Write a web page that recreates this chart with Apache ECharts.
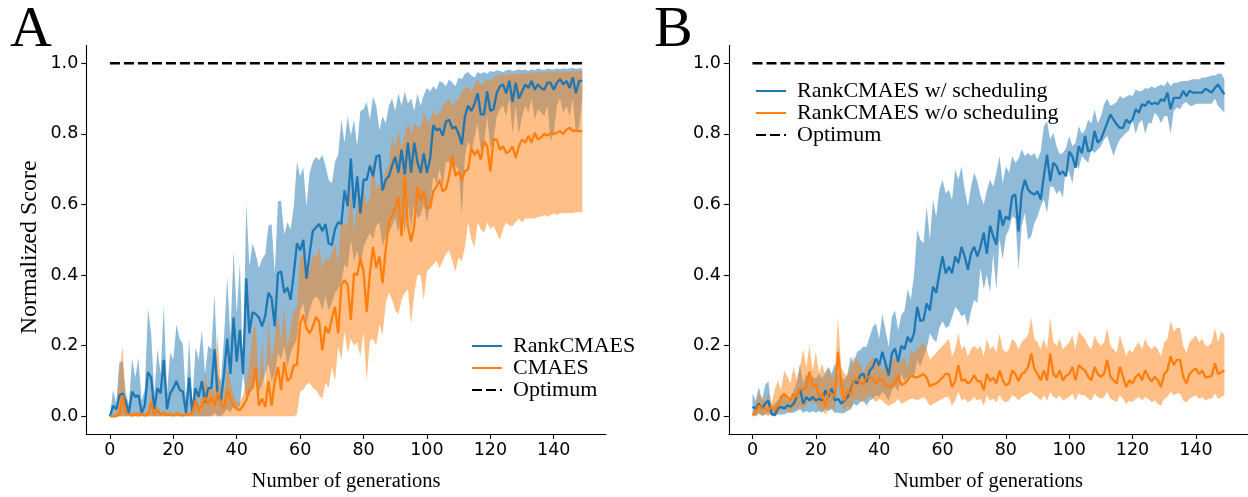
<!DOCTYPE html>
<html>
<head>
<meta charset="utf-8">
<script src="https://cdn.jsdelivr.net/npm/echarts@6/dist/echarts.min.js"></script>
<style>
html,body{margin:0;padding:0;background:#fff;}
#c{width:1248px;height:497px;}
</style>
</head>
<body>
<div id="c"></div>
<script>
// generation index (x values)
const generations = Array.from({length:150}, (_, i) => i);
const xTicks = [0, 20, 40, 60, 80, 100, 120, 140];
const yTicks = [0, 0.2, 0.4, 0.6, 0.8, 1.0];
const optimum = 1.0;

// ---------- Panel A ----------
const A_rank_mean = [
0,0.03,0.02,0.06,0.065,0.04,0.01,0.07,0.055,0.06,
0.01,0.03,0.125,0.11,0.02,0.08,0.065,0.16,0.02,0.065,
0.08,0.1,0.075,0.07,0.01,0.11,0.01,0.08,0.055,0.1,
0.04,0.08,0.08,0.19,0.055,0.045,0.12,0.22,0.12,0.28,
0.155,0.245,0.12,0.39,0.235,0.295,0.29,0.28,0.255,0.285,
0.35,0.335,0.255,0.405,0.41,0.35,0.365,0.33,0.405,0.49,
0.47,0.5,0.39,0.46,0.525,0.535,0.545,0.525,0.545,0.49,
0.485,0.53,0.55,0.545,0.64,0.595,0.73,0.59,0.68,0.575,
0.67,0.67,0.71,0.68,0.735,0.74,0.64,0.67,0.68,0.71,
0.735,0.69,0.755,0.685,0.775,0.69,0.775,0.72,0.69,0.745,
0.69,0.73,0.825,0.81,0.815,0.795,0.835,0.84,0.815,0.82,
0.8,0.77,0.85,0.88,0.865,0.885,0.915,0.855,0.855,0.92,
0.865,0.87,0.915,0.935,0.94,0.915,0.95,0.89,0.945,0.9,
0.92,0.94,0.93,0.95,0.925,0.94,0.93,0.925,0.945,0.945,
0.925,0.945,0.955,0.94,0.95,0.93,0.96,0.915,0.95,0.95];
const A_rank_upper = [
0,0.075,0.035,0.155,0.155,0.065,0.035,0.165,0.11,0.165,
0.045,0.075,0.305,0.235,0.065,0.19,0.12,0.315,0.065,0.18,
0.16,0.26,0.22,0.205,0.045,0.22,0.035,0.195,0.16,0.245,
0.12,0.2,0.19,0.345,0.12,0.1,0.225,0.395,0.225,0.47,
0.29,0.435,0.12,0.605,0.425,0.49,0.46,0.42,0.445,0.46,
0.54,0.545,0.405,0.61,0.61,0.515,0.55,0.53,0.595,0.72,
0.68,0.705,0.595,0.69,0.72,0.735,0.725,0.74,0.71,0.67,
0.66,0.72,0.74,0.84,0.775,0.85,0.795,0.84,0.765,0.865,
0.87,0.89,0.84,0.905,0.88,0.81,0.85,0.83,0.88,0.9,
0.865,0.915,0.88,0.92,0.885,0.9,0.865,0.915,0.88,0.91,
0.93,0.92,0.935,0.925,0.95,0.945,0.935,0.955,0.945,0.935,
0.96,0.955,0.97,0.975,0.965,0.96,0.975,0.97,0.975,0.97,
0.978,0.975,0.98,0.978,0.975,0.98,0.982,0.978,0.98,0.983,
0.98,0.982,0.978,0.983,0.98,0.985,0.982,0.98,0.985,0.983,
0.982,0.985,0.983,0.986,0.984,0.985,0.987,0.984,0.986,0.985];
const A_rank_lower = [
0,0,0,0,0,0,0,0,0,0,
0,0,0,0,0,0,0,0,0,0,
0,0,0,0,0,0,0,0,0,0,
0,0,0,0.01,0,0,0.01,0.02,0.01,0.03,
0.02,0.03,0.12,0.05,0.06,0.08,0.1,0.07,0.09,0.12,
0.15,0.1,0.12,0.18,0.16,0.2,0.14,0.18,0.2,0.22,
0.3,0.32,0.26,0.3,0.33,0.34,0.33,0.3,0.34,0.3,
0.32,0.35,0.36,0.38,0.43,0.42,0.5,0.44,0.47,0.42,
0.48,0.5,0.52,0.5,0.54,0.55,0.48,0.51,0.52,0.54,
0.56,0.52,0.58,0.52,0.6,0.53,0.6,0.56,0.57,0.6,
0.55,0.6,0.68,0.66,0.7,0.65,0.72,0.72,0.7,0.71,
0.7,0.57,0.74,0.78,0.75,0.79,0.83,0.75,0.77,0.85,
0.76,0.78,0.85,0.87,0.88,0.85,0.9,0.8,0.88,0.8,
0.85,0.88,0.86,0.9,0.84,0.87,0.86,0.85,0.88,0.78,
0.8,0.88,0.9,0.86,0.88,0.85,0.9,0.8,0.82,0.9];
const A_cma_mean = [
0,0,0,0.005,0.06,0.01,0.005,0.003,0.005,0.003,
0.005,0.003,0.004,0.04,0.005,0.017,0.005,0.008,0.004,0.005,
0.003,0.006,0.004,0.003,0.005,0.004,0.01,0.045,0.015,0.03,
0.055,0.035,0.055,0.03,0.07,0.035,0.022,0.075,0.05,0.03,
0.02,0.018,0.03,0.045,0.075,0.08,0.14,0.03,0.05,0.027,
0.1,0.03,0.1,0.14,0.074,0.154,0.1,0.11,0.145,0.145,
0.263,0.287,0.25,0.235,0.254,0.282,0.268,0.187,0.254,0.235,
0.277,0.31,0.235,0.372,0.386,0.372,0.273,0.405,0.4,0.448,
0.41,0.296,0.405,0.48,0.42,0.453,0.377,0.472,0.552,0.566,
0.59,0.62,0.51,0.68,0.538,0.495,0.54,0.65,0.61,0.637,
0.59,0.59,0.637,0.65,0.67,0.637,0.645,0.68,0.74,0.68,
0.694,0.67,0.694,0.7,0.76,0.74,0.755,0.727,0.78,0.765,
0.694,0.784,0.784,0.755,0.765,0.746,0.75,0.765,0.732,0.765,
0.784,0.775,0.794,0.775,0.803,0.784,0.79,0.8,0.795,0.803,
0.8,0.803,0.808,0.8,0.812,0.817,0.808,0.81,0.808,0.808];
const A_cma_upper = [
0,0.005,0.01,0.12,0.2,0.03,0.01,0.01,0.015,0.01,
0.012,0.01,0.015,0.065,0.01,0.035,0.012,0.02,0.01,0.012,
0.008,0.015,0.01,0.008,0.012,0.01,0.025,0.07,0.03,0.06,
0.12,0.07,0.1,0.06,0.235,0.07,0.05,0.14,0.1,0.06,
0.04,0.04,0.06,0.1,0.15,0.235,0.26,0.09,0.21,0.08,
0.28,0.15,0.22,0.29,0.21,0.31,0.2,0.25,0.3,0.31,
0.45,0.46,0.43,0.41,0.46,0.45,0.48,0.42,0.45,0.44,
0.46,0.49,0.43,0.56,0.54,0.55,0.65,0.52,0.6,0.62,
0.64,0.6,0.62,0.73,0.64,0.66,0.65,0.7,0.71,0.79,
0.76,0.81,0.76,0.8,0.83,0.8,0.83,0.82,0.82,0.86,
0.84,0.83,0.87,0.85,0.86,0.88,0.89,0.9,0.88,0.89,
0.9,0.92,0.93,0.935,0.92,0.94,0.955,0.94,0.945,0.955,
0.95,0.96,0.964,0.965,0.97,0.965,0.97,0.968,0.97,0.972,
0.97,0.972,0.974,0.972,0.975,0.973,0.976,0.974,0.975,0.976,
0.975,0.977,0.976,0.978,0.976,0.977,0.978,0.977,0.978,0.977];
const A_cma_lower = [
0,0,0,0,0,0,0,0,0,0,
0,0,0,0,0,0,0,0,0,0,
0,0,0,0,0,0,0,0,0,0,
0,0,0,0,0,0,0,0,0,0,
0,0,0,0,0,0,0,0,0,0,
0,0,0,0,0,0,0,0,0,0.005,
0.07,0.075,0.09,0.095,0.08,0.075,0.06,0.05,0.095,0.08,
0.14,0.1,0.2,0.16,0.24,0.18,0.22,0.2,0.21,0.17,
0.24,0.1,0.215,0.22,0.2,0.26,0.23,0.32,0.35,0.33,
0.3,0.29,0.33,0.35,0.36,0.26,0.35,0.4,0.4,0.33,
0.41,0.42,0.43,0.44,0.42,0.44,0.46,0.47,0.44,0.41,
0.45,0.44,0.48,0.55,0.5,0.48,0.55,0.53,0.52,0.55,
0.53,0.54,0.52,0.5,0.53,0.55,0.54,0.54,0.55,0.56,
0.55,0.56,0.56,0.56,0.56,0.565,0.565,0.57,0.565,0.57,
0.575,0.57,0.575,0.575,0.575,0.576,0.575,0.578,0.578,0.578];

// ---------- Panel B ----------
const B_sched_mean = [
0.027,0.022,0.036,0.022,0.036,0.045,0.008,0.003,0.022,0.027,
0.022,0.031,0.027,0.036,0.055,0.079,0.036,0.055,0.045,0.055,
0.045,0.05,0.045,0.074,0.055,0.079,0.045,0.05,0.036,0.045,
0.055,0.074,0.102,0.093,0.116,0.121,0.097,0.13,0.14,0.164,
0.145,0.183,0.15,0.116,0.178,0.192,0.154,0.2,0.19,0.225,
0.21,0.235,0.31,0.27,0.273,0.32,0.3,0.367,0.35,0.405,
0.453,0.405,0.424,0.405,0.453,0.434,0.48,0.453,0.415,0.462,
0.48,0.453,0.48,0.52,0.46,0.54,0.51,0.486,0.585,0.54,
0.566,0.557,0.623,0.628,0.524,0.633,0.67,0.642,0.633,0.628,
0.637,0.614,0.68,0.741,0.666,0.718,0.708,0.685,0.694,0.68,
0.75,0.736,0.704,0.765,0.746,0.794,0.75,0.755,0.808,0.775,
0.784,0.808,0.831,0.855,0.84,0.827,0.817,0.817,0.841,0.831,
0.841,0.87,0.86,0.884,0.879,0.893,0.884,0.888,0.884,0.898,
0.893,0.917,0.87,0.902,0.902,0.902,0.922,0.907,0.922,0.917,
0.917,0.917,0.917,0.928,0.922,0.917,0.93,0.94,0.925,0.912];
const B_sched_upper = [
0.064,0.045,0.083,0.045,0.088,0.1,0.027,0.036,0.045,0.055,
0.064,0.045,0.055,0.074,0.097,0.15,0.093,0.121,0.102,0.112,
0.107,0.121,0.107,0.126,0.14,0.121,0.15,0.121,0.112,0.102,
0.121,0.169,0.15,0.183,0.188,0.197,0.197,0.225,0.254,0.263,
0.22,0.29,0.244,0.197,0.282,0.3,0.244,0.287,0.3,0.36,
0.33,0.4,0.528,0.5,0.49,0.595,0.5,0.613,0.565,0.642,
0.67,0.632,0.642,0.613,0.7,0.67,0.708,0.642,0.595,0.65,
0.69,0.665,0.625,0.6,0.64,0.67,0.65,0.69,0.737,0.66,
0.708,0.69,0.737,0.718,0.73,0.756,0.737,0.746,0.737,0.746,
0.727,0.75,0.822,0.836,0.784,0.803,0.765,0.742,0.746,0.76,
0.794,0.765,0.775,0.822,0.8,0.81,0.84,0.83,0.87,0.83,
0.85,0.884,0.9,0.88,0.884,0.89,0.907,0.9,0.905,0.91,
0.907,0.926,0.92,0.922,0.93,0.928,0.935,0.93,0.935,0.94,
0.935,0.95,0.935,0.945,0.945,0.948,0.95,0.95,0.952,0.955,
0.955,0.955,0.96,0.96,0.962,0.965,0.965,0.97,0.97,0.955];
const B_sched_lower = [
0.005,0,0.01,0,0.005,0.01,0,0,0.005,0.005,
0.005,0.01,0.01,0.01,0.015,0.02,0.01,0.015,0.01,0.015,
0.01,0.015,0.01,0.02,0.015,0.02,0.01,0.01,0.008,0.01,
0.015,0.02,0.036,0.03,0.04,0.045,0.03,0.045,0.05,0.06,
0.055,0.07,0.06,0.045,0.074,0.085,0.07,0.12,0.1,0.11,
0.12,0.11,0.16,0.14,0.17,0.19,0.235,0.22,0.21,0.25,
0.27,0.25,0.255,0.28,0.31,0.3,0.283,0.29,0.255,0.3,
0.33,0.32,0.42,0.36,0.4,0.35,0.46,0.36,0.5,0.445,
0.51,0.53,0.566,0.56,0.415,0.54,0.576,0.5,0.51,0.547,
0.566,0.595,0.614,0.576,0.65,0.65,0.63,0.64,0.62,0.71,
0.69,0.66,0.72,0.7,0.737,0.727,0.718,0.756,0.746,0.756,
0.765,0.784,0.794,0.765,0.737,0.765,0.784,0.794,0.803,0.812,
0.84,0.8,0.83,0.84,0.8,0.83,0.83,0.86,0.85,0.83,
0.85,0.85,0.8,0.865,0.875,0.87,0.885,0.89,0.88,0.88,
0.885,0.885,0.885,0.885,0.885,0.885,0.9,0.88,0.87,0.86];
const B_nosched_mean = [
0.003,0.013,0.031,0.022,0.022,0.017,0.027,0.017,0.031,0.055,
0.064,0.055,0.045,0.064,0.055,0.079,0.074,0.083,0.126,0.083,
0.093,0.055,0.064,0.027,0.069,0.064,0.055,0.183,0.093,0.045,
0.074,0.06,0.102,0.107,0.097,0.088,0.112,0.112,0.107,0.093,
0.107,0.102,0.088,0.083,0.088,0.093,0.116,0.088,0.093,0.102,
0.116,0.112,0.11,0.115,0.12,0.11,0.085,0.09,0.093,0.1,
0.11,0.12,0.12,0.083,0.1,0.145,0.1,0.105,0.093,0.1,
0.117,0.1,0.1,0.074,0.12,0.1,0.11,0.093,0.13,0.102,
0.088,0.093,0.13,0.12,0.1,0.12,0.125,0.14,0.178,0.135,
0.12,0.102,0.13,0.102,0.178,0.12,0.11,0.13,0.102,0.115,
0.12,0.14,0.102,0.145,0.136,0.13,0.112,0.102,0.14,0.12,
0.112,0.12,0.16,0.112,0.102,0.093,0.14,0.112,0.083,0.102,
0.093,0.112,0.12,0.102,0.13,0.112,0.098,0.112,0.102,0.083,
0.12,0.13,0.17,0.145,0.16,0.16,0.112,0.093,0.12,0.13,
0.135,0.12,0.13,0.11,0.112,0.115,0.15,0.12,0.125,0.13];
const B_nosched_upper = [
0.005,0.036,0.064,0.055,0.045,0.064,0.036,0.074,0.102,0.074,
0.13,0.112,0.093,0.14,0.102,0.14,0.19,0.14,0.2,0.13,
0.183,0.121,0.15,0.112,0.14,0.102,0.121,0.28,0.14,0.121,
0.112,0.14,0.169,0.159,0.15,0.121,0.145,0.159,0.169,0.159,
0.145,0.13,0.15,0.136,0.155,0.169,0.15,0.159,0.169,0.14,
0.188,0.178,0.19,0.2,0.21,0.19,0.16,0.17,0.18,0.19,
0.2,0.21,0.22,0.17,0.19,0.235,0.19,0.2,0.17,0.19,
0.2,0.19,0.2,0.17,0.22,0.19,0.2,0.18,0.235,0.19,
0.18,0.19,0.22,0.21,0.19,0.21,0.22,0.23,0.28,0.22,
0.21,0.19,0.22,0.19,0.28,0.21,0.2,0.22,0.19,0.2,
0.21,0.23,0.19,0.24,0.23,0.22,0.2,0.19,0.23,0.21,
0.2,0.21,0.25,0.2,0.19,0.18,0.23,0.2,0.17,0.19,
0.18,0.2,0.21,0.19,0.22,0.2,0.19,0.2,0.19,0.17,
0.21,0.22,0.27,0.24,0.25,0.25,0.2,0.18,0.21,0.22,
0.23,0.21,0.22,0.2,0.2,0.21,0.25,0.21,0.24,0.23];
const B_nosched_lower = [
0,0,0.005,0.005,0.005,0,0.01,0,0.005,0.02,
0.02,0.015,0.01,0.02,0.02,0.03,0.02,0.03,0.05,0.035,
0.04,0.015,0.02,0.005,0.02,0.025,0.015,0.09,0.04,0.01,
0.03,0.02,0.045,0.05,0.045,0.04,0.05,0.06,0.05,0.04,
0.05,0.045,0.035,0.03,0.035,0.04,0.05,0.035,0.04,0.045,
0.05,0.05,0.045,0.05,0.055,0.045,0.03,0.035,0.04,0.045,
0.05,0.055,0.055,0.03,0.045,0.07,0.045,0.05,0.04,0.045,
0.055,0.045,0.05,0.03,0.06,0.045,0.05,0.04,0.06,0.045,
0.04,0.045,0.06,0.055,0.045,0.055,0.06,0.065,0.07,0.06,
0.055,0.045,0.06,0.045,0.07,0.055,0.05,0.06,0.045,0.05,
0.055,0.065,0.045,0.065,0.06,0.06,0.05,0.045,0.065,0.055,
0.05,0.055,0.07,0.05,0.045,0.04,0.06,0.05,0.035,0.045,
0.04,0.05,0.055,0.045,0.055,0.05,0.04,0.045,0.035,0.03,
0.05,0.055,0.07,0.06,0.065,0.065,0.045,0.04,0.05,0.055,
0.06,0.05,0.055,0.045,0.05,0.05,0.065,0.05,0.055,0.06];

const BLUE = '#1f77b4', ORANGE = '#ff7f0e';
const BLUE_FILL = 'rgba(31,119,180,0.5)', ORANGE_FILL = 'rgba(255,127,14,0.5)';
const SERIF = 'Liberation Serif';
const SANS = 'DejaVu Sans';

const pts = arr => generations.map((g, i) => [g, arr[i]]);

// shaded band between lower and upper, drawn through the axis scales (api.coord)
function band(lo, hi, fill, gi) {
  return {
    type:'custom', coordinateSystem:'cartesian2d', xAxisIndex:gi, yAxisIndex:gi,
    silent:true, z:1, data:[[generations[0], lo[0]]],
    renderItem: (params, api) => {
      const points = [];
      for (let i = 0; i < generations.length; i++) points.push(api.coord([generations[i], hi[i]]));
      for (let i = generations.length - 1; i >= 0; i--) points.push(api.coord([generations[i], lo[i]]));
      return {type:'polygon', shape:{points:points}, style:{fill:fill, stroke:null}};
    }
  };
}
function meanLine(name, arr, color, gi) {
  return {type:'line', name:name, xAxisIndex:gi, yAxisIndex:gi, data:pts(arr),
    symbol:'none', showSymbol:false, lineStyle:{color:color, width:2.3}, itemStyle:{color:color}, z:3, silent:true};
}
function optLine(gi) {
  return {type:'line', name:'Optimum', xAxisIndex:gi, yAxisIndex:gi,
    data:[[generations[0], optimum],[generations[generations.length-1], optimum]],
    symbol:'none', showSymbol:false,
    lineStyle:{color:'#000', width:2.5, type:[10,4]}, itemStyle:{color:'#000'}, z:4, silent:true};
}

const gridTop = 45.6, gridH = 388.8, gridW = 519.6;
function xAx(gi) {
  return {type:'value', gridIndex:gi, min:-7.45, max:156.45,
    axisLine:{show:true, onZero:false, lineStyle:{color:'#000', width:1.1}},
    axisTick:{show:true, length:5, customValues:xTicks, lineStyle:{color:'#000', width:1.1}},
    axisLabel:{customValues:xTicks, fontFamily:SANS, fontSize:17.5, color:'#000', margin:7},
    splitLine:{show:false},
    name:'Number of generations', nameLocation:'middle', nameGap:37,
    nameTextStyle:{fontFamily:SERIF, fontSize:20.5, color:'#000'}};
}
function yAx(gi) {
  return {type:'value', gridIndex:gi, min:-0.05, max:1.05,
    axisLine:{show:true, onZero:false, lineStyle:{color:'#000', width:1.1}},
    axisTick:{show:true, length:5, customValues:yTicks, lineStyle:{color:'#000', width:1.1}},
    axisLabel:{customValues:yTicks, fontFamily:SANS, fontSize:17.5, color:'#000', margin:8,
      formatter: v => v.toFixed(1)},
    splitLine:{show:false},
    name: gi === 0 ? 'Normalized Score' : '', nameLocation:'middle', nameGap:45,
    nameTextStyle:{fontFamily:SERIF, fontSize:24, color:'#000', padding:[0,15,0,0]}};
}
const legendText = {fontFamily:SERIF, fontSize:22, color:'#000', lineHeight:22, padding:[0,0,0,6]};
const legendCommon = {orient:'vertical', padding:0, itemWidth:30, itemHeight:14, itemGap:0,
  selectedMode:false, textStyle:legendText, itemStyle:{opacity:0}};

const option = {
  animation:false,
  backgroundColor:'#fff',
  grid:[
    {left:86.3, top:gridTop, width:gridW, height:gridH},
    {left:728.9, top:gridTop, width:gridW, height:gridH}
  ],
  xAxis:[xAx(0), xAx(1)],
  yAxis:[yAx(0), yAx(1)],
  legend:[
    Object.assign({data:['RankCMAES','CMAES','Optimum'], left:471, top:335}, legendCommon),
    Object.assign({data:['RankCMAES w/ scheduling','RankCMAES w/o scheduling','Optimum'], left:755, top:80}, legendCommon)
  ],
  graphic:[
    {type:'text', left:10, top:2, style:{text:'A', fontFamily:SERIF, fontSize:58, fill:'#000'}},
    {type:'text', left:654, top:2, style:{text:'B', fontFamily:SERIF, fontSize:58, fill:'#000'}}
  ],
  series:[
    band(A_rank_lower, A_rank_upper, BLUE_FILL, 0),
    band(A_cma_lower, A_cma_upper, ORANGE_FILL, 0),
    meanLine('RankCMAES', A_rank_mean, BLUE, 0),
    meanLine('CMAES', A_cma_mean, ORANGE, 0),
    optLine(0),
    band(B_sched_lower, B_sched_upper, BLUE_FILL, 1),
    band(B_nosched_lower, B_nosched_upper, ORANGE_FILL, 1),
    meanLine('RankCMAES w/ scheduling', B_sched_mean, BLUE, 1),
    meanLine('RankCMAES w/o scheduling', B_nosched_mean, ORANGE, 1),
    optLine(1)
  ]
};
const chart = echarts.init(document.getElementById('c'), null, {renderer:'canvas'});
chart.setOption(option);
</script>
</body>
</html>
